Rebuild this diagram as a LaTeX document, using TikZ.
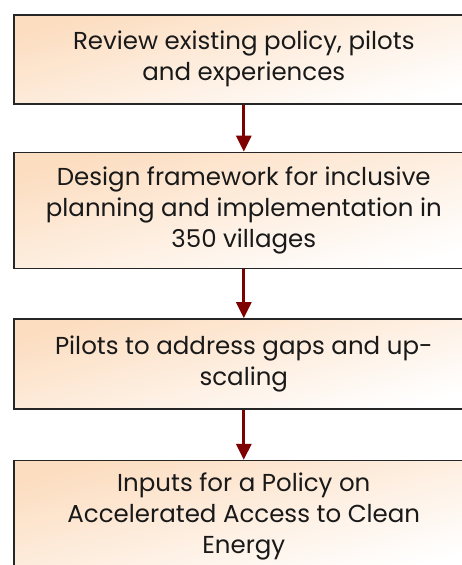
\documentclass[tikz,border=0pt]{standalone}
\usepackage{fontspec}
\setmainfont{Poppins}
\usepackage{tikz}
\usetikzlibrary{positioning,arrows.meta}
\definecolor{peach}{HTML}{FCDDC0}
\definecolor{arrowred}{HTML}{7F0000}
\tikzstyle{phase} = [draw=black!85, line width=1.6pt, rectangle, minimum width=460pt, inner sep=0pt,
  align=center, font=\fontsize{24.5}{31}\selectfont, text=black!90,
  shading=axis, top color=peach, bottom color=white, shading angle=15]
\tikzstyle{flow} = [draw=arrowred, line width=3pt, -{Triangle[length=16pt,width=15pt]}]
\tikzset{x=1pt, y=1pt, node distance=48pt}

\begin{document}
\begin{tikzpicture}
\useasboundingbox (0,0) rectangle (462,565);
\clip (0,0) rectangle (462,565);

\node[phase, minimum height=89pt, anchor=north west] (p1) at (13,551)
  {Review existing policy, pilots\\and experiences};
\node[phase, minimum height=116pt, below=47pt of p1] (p2)
  {Design framework for inclusive\\planning and implementation in\\350 villages};
\node[phase, minimum height=90pt, below=49pt of p2] (p3)
  {Pilots to address gaps and up-\\scaling};
\node[phase, minimum height=112pt, below=50pt of p3] (p4)
  {Inputs for a Policy on\\Accelerated Access to Clean\\Energy};

\draw[flow] (p1) -- (p2);
\draw[flow] (p2) -- (p3);
\draw[flow] (p3) -- (p4);
\end{tikzpicture}
\end{document}
